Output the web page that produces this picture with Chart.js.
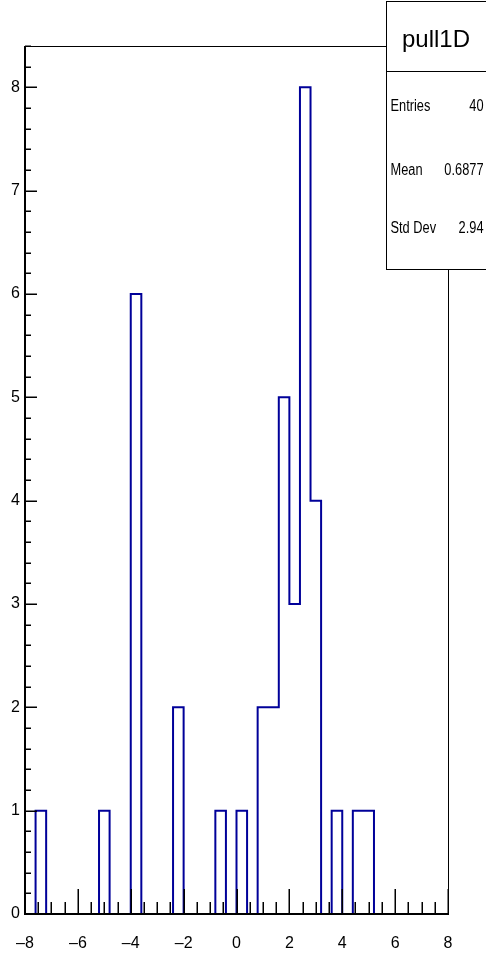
<!DOCTYPE html>
<html>
<head>
<meta charset="utf-8">
<script src="https://cdn.jsdelivr.net/npm/chart.js@4"></script>
<style>
  html, body { margin: 0; padding: 0; background: #fff; }
  #wrap { width: 486px; height: 954px; position: relative; }
</style>
</head>
<body>
<div id="wrap"><canvas id="histo"></canvas></div>
<script>
// histogram pull1D : 40 bins from -8 to 8
const binLow = -8;
const binWidth = 0.4;
const binCounts = [0, 1, 0, 0, 0, 0, 0, 1, 0, 0,
                   6, 0, 0, 0, 2, 0, 0, 0, 1, 0,
                   1, 0, 2, 2, 5, 3, 8, 4, 0, 1,
                   0, 1, 1, 0, 0, 0, 0, 0, 0, 0];
const xTickLabels = [-8, -6, -4, -2, 0, 2, 4, 6, 8];
const yTickLabels = [0, 1, 2, 3, 4, 5, 6, 7, 8];
const yMax = 8.4;
const statNames = ['Entries', 'Mean', 'Std Dev'];
const statValues = ['40', '0.6877', '2.94'];
const histTitle = 'pull1D';

const FONT = '"Liberation Sans", Arial, Helvetica, sans-serif';

// outline points at the bin edges (stepped line = histogram)
const points = binCounts.map((c, i) => ({ x: binLow + i * binWidth, y: c }));
points.push({ x: binLow + binCounts.length * binWidth, y: 0 });

// ROOT style frame, tick marks and stats box
const rootFrame = {
    id: 'rootFrame',
    afterDatasetsDraw(chart) {
        const { ctx, chartArea: a, scales: { x, y } } = chart;
        ctx.save();
        ctx.strokeStyle = '#000';

        // x ticks (inside, going up)
        ctx.lineWidth = 1.5;
        for (let v = -8; v <= 8.001; v += 0.5) {
            const px = Math.round(x.getPixelForValue(v)) + 0.25;
            const len = Math.abs(v % 2) < 1e-6 ? 25 : 12;
            ctx.beginPath();
            ctx.moveTo(px, a.bottom);
            ctx.lineTo(px, a.bottom - len);
            ctx.stroke();
        }
        // y ticks (inside, going right)
        for (let i = 0; i <= 42; i++) {
            const v = i * 0.2;
            const py = Math.round(y.getPixelForValue(v)) + 0.25;
            const len = i % 5 === 0 ? 12 : 6;
            ctx.beginPath();
            ctx.moveTo(a.left, py);
            ctx.lineTo(a.left + len, py);
            ctx.stroke();
        }

        // frame
        ctx.lineWidth = 1;
        ctx.strokeRect(a.left + 0.5, a.top + 0.5, a.right - a.left, a.bottom - a.top);
        ctx.lineWidth = 2;
        ctx.beginPath();
        ctx.moveTo(a.left, a.top);
        ctx.lineTo(a.left, a.bottom);
        ctx.lineTo(a.right, a.bottom);
        ctx.stroke();

        // stats box
        const bx = 386, by = 1, bw = 110, bh = 268;
        ctx.fillStyle = '#fff';
        ctx.fillRect(bx, by, bw, bh);
        ctx.lineWidth = 1;
        ctx.strokeRect(bx + 0.5, by + 0.5, bw, bh);
        ctx.beginPath();
        ctx.moveTo(bx, 71.5);
        ctx.lineTo(bx + bw, 71.5);
        ctx.stroke();

        ctx.fillStyle = '#000';
        ctx.font = '24px ' + FONT;
        ctx.textAlign = 'center';
        ctx.textBaseline = 'alphabetic';
        ctx.fillText(histTitle, 436, 47);

        const rows = [111, 175, 233];
        statNames.forEach((name, i) => {
            ctx.save();
            ctx.translate(0, rows[i]);
            ctx.scale(0.8, 1);
            ctx.font = '16px ' + FONT;
            ctx.textAlign = 'left';
            ctx.fillText(name, 390.5 / 0.8, 0);
            ctx.textAlign = 'right';
            ctx.fillText(statValues[i], 483.5 / 0.8, 0);
            ctx.restore();
        });
        ctx.restore();
    }
};

const ctx = document.getElementById('histo').getContext('2d');
new Chart(ctx, {
    type: 'line',
    data: {
        datasets: [{
            label: histTitle,
            data: points,
            stepped: 'before',
            borderColor: '#000099',
            borderWidth: 2,
            pointRadius: 0,
            fill: false
        }]
    },
    options: {
        responsive: true,
        maintainAspectRatio: false,
        animation: false,
        layout: { padding: { top: 46, right: 38, left: 0, bottom: 0 } },
        plugins: { legend: { display: false }, tooltip: { enabled: false } },
        scales: {
            x: {
                type: 'linear',
                min: -8,
                max: 8,
                grid: { display: false, drawTicks: false },
                border: { display: false },
                afterBuildTicks: s => { s.ticks = xTickLabels.map(v => ({ value: v })); },
                afterFit: s => { s.height = 40; s.paddingLeft = 0; s.paddingRight = 0; },
                ticks: {
                    padding: 20,
                    color: '#000',
                    font: { family: FONT, size: 16 },
                    maxRotation: 0,
                    autoSkip: false,
                    callback: v => (v < 0 ? '\u2013' + Math.abs(v) : String(v))
                }
            },
            y: {
                type: 'linear',
                min: 0,
                max: yMax,
                grid: { display: false, drawTicks: false },
                border: { display: false },
                afterBuildTicks: s => { s.ticks = yTickLabels.map(v => ({ value: v })); },
                afterFit: s => { s.width = 25; s.paddingTop = 0; s.paddingBottom = 0; },
                ticks: {
                    padding: 5,
                    color: '#000',
                    font: { family: FONT, size: 16 },
                    autoSkip: false
                }
            }
        }
    },
    plugins: [rootFrame]
});
</script>
</body>
</html>
